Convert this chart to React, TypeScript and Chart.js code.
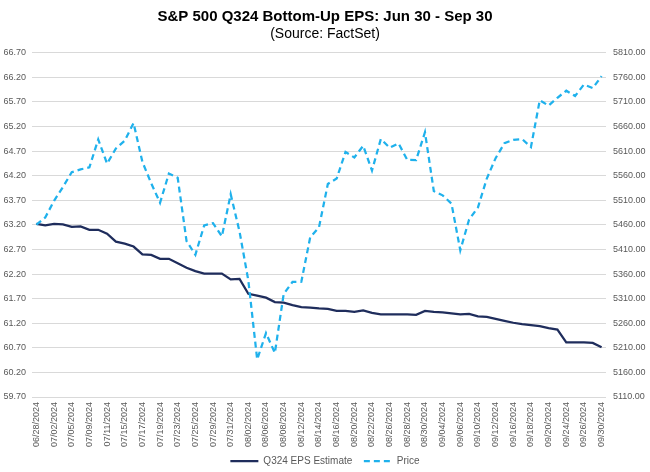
import React, { useEffect, useRef } from "react";
import { Chart, registerables } from "chart.js";

Chart.register(...registerables);

const dates: string[] = [
  "06/28/2024",
  "07/01/2024", "07/02/2024", "07/03/2024", "07/05/2024", "07/08/2024", "07/09/2024", "07/10/2024",
  "07/11/2024", "07/12/2024", "07/15/2024", "07/16/2024", "07/17/2024", "07/18/2024", "07/19/2024",
  "07/22/2024", "07/23/2024", "07/24/2024", "07/25/2024", "07/26/2024", "07/29/2024", "07/30/2024",
  "07/31/2024",
  "08/01/2024", "08/02/2024", "08/05/2024", "08/06/2024", "08/07/2024", "08/08/2024", "08/09/2024",
  "08/12/2024", "08/13/2024", "08/14/2024", "08/15/2024", "08/16/2024", "08/19/2024", "08/20/2024",
  "08/21/2024", "08/22/2024", "08/23/2024", "08/26/2024", "08/27/2024", "08/28/2024", "08/29/2024",
  "08/30/2024",
  "09/03/2024", "09/04/2024", "09/05/2024", "09/06/2024", "09/09/2024", "09/10/2024", "09/11/2024",
  "09/12/2024", "09/13/2024", "09/16/2024", "09/17/2024", "09/18/2024", "09/19/2024", "09/20/2024",
  "09/23/2024", "09/24/2024", "09/25/2024", "09/26/2024", "09/27/2024", "09/30/2024",
];

const epsEstimate: number[] = [
  63.22,
  63.19, 63.22, 63.21, 63.16, 63.17, 63.10, 63.10,
  63.02, 62.86, 62.82, 62.76, 62.60, 62.59, 62.51,
  62.51, 62.42, 62.33, 62.26, 62.21, 62.21, 62.21,
  62.09,
  62.10, 61.80, 61.76, 61.72, 61.63, 61.62, 61.57,
  61.53, 61.52, 61.50, 61.49, 61.45, 61.45, 61.43,
  61.46, 61.41, 61.38, 61.38, 61.38, 61.38, 61.37,
  61.45,
  61.43, 61.42, 61.40, 61.38, 61.39, 61.34, 61.33,
  61.29, 61.25, 61.21, 61.18, 61.16, 61.14, 61.10,
  61.07, 60.81, 60.81, 60.81, 60.80, 60.71,
];

const price: number[] = [
  5460.48,
  5475.09, 5509.01, 5537.02, 5567.19, 5572.85, 5576.98, 5633.91,
  5584.54, 5615.35, 5631.22, 5667.20, 5588.27, 5544.59, 5505.00,
  5564.41, 5555.74, 5427.13, 5399.22, 5459.10, 5463.54, 5436.44,
  5522.30,
  5446.68, 5346.56, 5186.33, 5240.03, 5199.50, 5319.31, 5344.16,
  5344.39, 5434.43, 5455.21, 5543.22, 5554.25, 5608.25, 5597.12,
  5620.85, 5570.64, 5634.61, 5616.84, 5625.80, 5592.18, 5591.96,
  5648.40,
  5528.93, 5520.07, 5503.41, 5408.42, 5471.05, 5495.52, 5554.13,
  5595.76, 5626.02, 5633.09, 5634.58, 5618.26, 5713.64, 5702.55,
  5718.57, 5732.93, 5722.26, 5745.37, 5738.17, 5762.48,
];

const titleText = "S&P 500 Q324 Bottom-Up EPS: Jun 30 - Sep 30";
const subtitleText = "(Source: FactSet)";
const epsLabel = "Q324 EPS Estimate";
const priceLabel = "Price";

const FONT = "'Liberation Sans', Arial, sans-serif";
const TXT = "#595959";
const GRID = "#d9d9d9";

export default function App() {
  const ref = useRef<HTMLCanvasElement | null>(null);

  useEffect(() => {
    document.body.style.margin = "0";
    const canvas = ref.current;
    if (!canvas) return;
    const defaultLabels = Chart.defaults.plugins.legend.labels.generateLabels;
    const chart = new Chart(canvas, {
      type: "line",
      data: {
        labels: dates,
        datasets: [
          {
            label: epsLabel,
            data: epsEstimate,
            yAxisID: "y",
            borderColor: "#1f2d5c",
            backgroundColor: "#1f2d5c",
            borderWidth: 2.25,
            pointRadius: 0,
            tension: 0,
            order: 1,
          },
          {
            label: priceLabel,
            data: price,
            yAxisID: "y1",
            borderColor: "#1fb1ec",
            backgroundColor: "#1fb1ec",
            borderWidth: 2.25,
            borderDash: [6, 4],
            pointRadius: 0,
            tension: 0,
            order: 0,
          },
        ],
      },
      options: {
        responsive: false,
        animation: false,
        layout: { padding: { left: 0, right: 0, top: 0, bottom: -4 } },
        plugins: {
          title: {
            display: true,
            text: titleText,
            color: "#000",
            font: { family: FONT, size: 15, weight: "bold" },
            padding: { top: 8, bottom: 0 },
          },
          subtitle: {
            display: true,
            text: subtitleText,
            color: "#000",
            font: { family: FONT, size: 14 },
            padding: { top: 0, bottom: 10 },
          },
          legend: {
            position: "bottom",
            labels: {
              boxWidth: 28,
              boxHeight: 0,
              color: TXT,
              font: { family: FONT, size: 10 },
              padding: 6,
              sort: (a: any, b: any) => a.datasetIndex - b.datasetIndex,
              generateLabels: (c: any) =>
                defaultLabels(c).map((it: any) =>
                  it.datasetIndex === 0 ? { ...it, text: it.text + "  " } : it
                ),
            },
          },
          tooltip: { enabled: false },
        },
        scales: {
          x: {
            type: "category",
            offset: true,
            grid: { display: false, drawTicks: false },
            border: { display: false },
            ticks: {
              autoSkip: false,
              maxRotation: 90,
              minRotation: 90,
              color: TXT,
              font: { family: FONT, size: 9 },
              padding: 5,
              callback: function (this: any, _v: any, i: number) {
                return i % 2 === 0 ? dates[i] : "";
              },
            },
            afterFit: (s: any) => {
              s.height = 53;
            },
          },
          y: {
            position: "left",
            min: 59.7,
            max: 66.7,
            grid: { color: GRID, lineWidth: 1, drawTicks: false },
            border: { display: false },
            ticks: {
              stepSize: 0.5,
              color: TXT,
              font: { family: FONT, size: 9 },
              padding: 6,
              callback: (v: any) => Number(v).toFixed(2),
            },
            afterFit: (s: any) => {
              s.width = 32;
            },
          },
          y1: {
            position: "right",
            min: 5110,
            max: 5810,
            grid: { display: false, drawTicks: false },
            border: { display: false },
            ticks: {
              stepSize: 50,
              color: TXT,
              font: { family: FONT, size: 9 },
              padding: 7,
              callback: (v: any) => Number(v).toFixed(2),
            },
            afterFit: (s: any) => {
              s.width = 44;
            },
          },
        },
      },
    });
    return () => chart.destroy();
  }, []);

  return (
    <div style={{ width: 650, height: 472 }}>
      <canvas ref={ref} width={650} height={472} style={{ display: "block" }} />
    </div>
  );
}
